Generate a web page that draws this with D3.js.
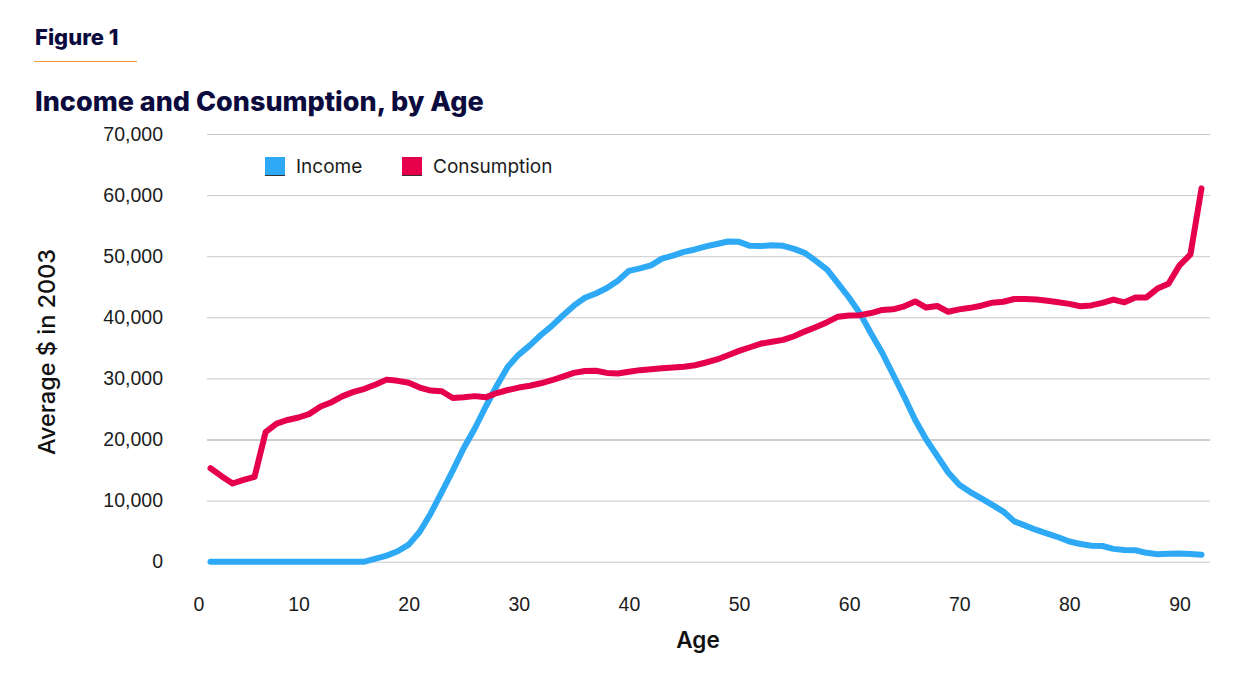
<!DOCTYPE html>
<html>
<head>
<meta charset="utf-8">
<script src="https://cdn.jsdelivr.net/npm/d3@7"></script>
<style>
    body { margin: 0; background: #fff; }
    svg { display: block; font-family: Inter, "Liberation Sans", Arial, sans-serif; }
    .yAxisG .domain, .xAxisG .domain { display: none; }
    .yAxisG text, .xAxisG text { font-size: 19.5px; fill: #1c1c1c; }
</style>
</head>
<body>
<svg id="chart"></svg>
<script>

// ages on the x axis, one point per year
var ages = d3.range(2, 93);

// average income by age, $ of 2003
var income = [
    0, 0, 0, 0, 0, 0, 0, 0, 0, 0,                      // 2-11
    0, 0, 0, 0, 0, 500, 1000, 1700, 2800, 4900,        // 12-21
    7900, 11400, 14900, 18600, 21800, 25400, 28800, 31900, 33900, 35400,   // 22-31
    37100, 38600, 40300, 41900, 43200, 43900, 44800, 46000, 47600, 48000,  // 32-41
    48500, 49600, 50100, 50700, 51100, 51600, 52000, 52400, 52350, 51700,  // 42-51
    51650, 51800, 51700, 51200, 50500, 49200, 47800, 45500, 43200, 40600,  // 52-61
    37300, 34200, 30600, 27000, 23200, 20000, 17300, 14600, 12600, 11400,  // 62-71
    10350, 9300, 8200, 6600, 5900, 5200, 4600, 4000, 3300, 2900,           // 72-81
    2600, 2570, 2100, 1910, 1880, 1450, 1220, 1300, 1340, 1260,            // 82-91
    1150                                                                   // 92
];

// average consumption by age, $ of 2003
var consumption = [
    15300, 14000, 12800, 13400, 13900, 21200, 22600, 23200, 23600, 24200,  // 2-11
    25400, 26100, 27100, 27800, 28300, 29000, 29800, 29600, 29300, 28500,  // 12-21
    28000, 27900, 26800, 26900, 27100, 26900, 27600, 28100, 28500, 28800,  // 22-31
    29200, 29700, 30300, 30900, 31200, 31250, 30900, 30800, 31100, 31350,  // 32-41
    31500, 31650, 31800, 31900, 32150, 32600, 33100, 33800, 34500, 35100,  // 42-51
    35700, 36000, 36300, 36900, 37700, 38400, 39200, 40100, 40300, 40350,  // 52-61
    40700, 41200, 41300, 41800, 42600, 41600, 41850, 40900, 41300, 41550,  // 62-71
    41900, 42400, 42550, 43000, 43000, 42900, 42700, 42450, 42200, 41800,  // 72-81
    41950, 42350, 42900, 42450, 43250, 43250, 44700, 45500, 48500, 50300,  // 82-91
    61100                                                                  // 92
];

var seriesNames = ["Income", "Consumption"];
var seriesColors = ["#2ea9f6", "#e6004c"];

var xTicks = [0, 10, 20, 30, 40, 50, 60, 70, 80, 90];
var yTicks = [0, 10000, 20000, 30000, 40000, 50000, 60000, 70000];


// set variables for svg, scales
var svgWidth = 1257;
var svgHeight = 682;
var plotLeft = 207, plotRight = 1210;
var plotTop = 134, plotBottom = 561.7;

var svg = d3.select("#chart")
    .attr("width", svgWidth)
    .attr("height", svgHeight);

var xScale = d3.scaleLinear().domain([0, 92]).range([188.5, 1201.5]);
var yScale = d3.scaleLinear().domain([0, 70000]).range([plotBottom, plotTop]);

// header: figure number with orange rule, then title
svg.append("text")
    .attr("x", 35).attr("y", 45)
    .style("font-size", "22px").style("font-weight", 800)
    .style("fill", "#0c0b3e")
    .text("Figure 1");

svg.append("line")
    .attr("x1", 34).attr("x2", 137)
    .attr("y1", 61.5).attr("y2", 61.5)
    .style("stroke", "#f29a3a").style("stroke-width", 1);

svg.append("text")
    .attr("x", 35).attr("y", 111)
    .style("font-size", "27px").style("font-weight", 800)
    .style("fill", "#0c0b3e")
    .text("Income and Consumption, by Age");

// y axis with gridlines
var yAxisG = svg.append("g")
    .attr("class", "yAxisG")
    .attr("transform", "translate(" + plotLeft + "," + 0 + ")")
    .call(d3.axisLeft(yScale)
        .tickValues(yTicks)
        .tickSize(-(plotRight - plotLeft))
        .tickPadding(44)
        .tickFormat(d3.format(",")));

yAxisG.selectAll(".tick line")
    .style("stroke", function (d) {
        return d === 20000 ? "#9a9a9a" : "#c9c9c9";
    })
    .style("stroke-width", 1);

// x axis, labels only
var xAxisG = svg.append("g")
    .attr("class", "xAxisG")
    .attr("transform", "translate(" + 0 + "," + plotBottom + ")")
    .call(d3.axisBottom(xScale)
        .tickValues(xTicks)
        .tickSize(0)
        .tickPadding(35));

// the "0" label sits a bit inside, next to the plot start
xAxisG.selectAll(".tick")
    .filter(function (d) { return d === 0; })
    .select("text")
    .attr("x", 10);

// axis titles
svg.append("text")
    .attr("transform", "translate(" + 47 + "," + 352 + ") rotate(-90)")
    .attr("text-anchor", "middle")
    .attr("dy", "0.35em")
    .style("font-size", "23.5px").style("font-weight", 500)
    .style("fill", "#111")
    .text("Average $ in 2003");

svg.append("text")
    .attr("x", 698).attr("y", 648)
    .attr("text-anchor", "middle")
    .style("font-size", "22.5px").style("font-weight", 600)
    .style("fill", "#111")
    .text("Age");

// lines
var lineGen = d3.line()
    .x(function (d) { return xScale(d.age); })
    .y(function (d) { return yScale(d.value); });

var seriesData = [income, consumption].map(function (values, k) {
    return {
        name: seriesNames[k],
        color: seriesColors[k],
        points: ages.map(function (a, i) {
            return {age: a, value: values[i]};
        })
    };
});

svg.append("g")
    .attr("class", "lines")
    .selectAll("path")
    .data(seriesData)
    .enter()
    .append("path")
    .attr("d", function (d) { return lineGen(d.points); })
    .style("fill", "none")
    .style("stroke", function (d) { return d.color; })
    .style("stroke-width", 6)
    .style("stroke-linejoin", "round")
    .style("stroke-linecap", "round");

// legend
var legendX = [265, 402];
var legend = svg.append("g")
    .attr("class", "legend")
    .selectAll("g")
    .data(seriesData)
    .enter()
    .append("g")
    .attr("transform", function (d, i) {
        return "translate(" + legendX[i] + "," + 157 + ")";
    });

legend.append("rect")
    .attr("width", 20).attr("height", 19)
    .style("fill", function (d) { return d.color; });

legend.append("line")
    .attr("x1", 0).attr("x2", 20)
    .attr("y1", 18.5).attr("y2", 18.5)
    .style("stroke", "#333").style("stroke-width", 1);

legend.append("text")
    .attr("x", 31).attr("y", 16)
    .style("font-size", "19px")
    .style("fill", "#1c1c1c")
    .text(function (d) { return d.name; });

</script>
</body>
</html>
